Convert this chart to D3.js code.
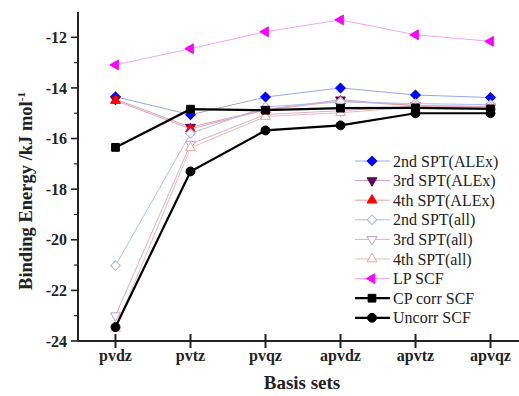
<!DOCTYPE html>
<html>
<head>
<meta charset="utf-8">
<script src="https://cdn.jsdelivr.net/npm/d3@7"></script>
<style>
  html, body { margin: 0; padding: 0; background: #fff; }
  svg { display: block; }
</style>
</head>
<body>
<svg id="chart" width="519" height="396"></svg>
<script>
const categories = ["pvdz", "pvtz", "pvqz", "apvdz", "apvtz", "apvqz"];
const yTicks = [-24, -22, -20, -18, -16, -14, -12];
const yMinorTicks = [-23, -21, -19, -17, -15, -13];

const spt2ALEx = [-14.35, -15.06, -14.36, -14.0, -14.28, -14.38];
const spt3ALEx = [-14.45, -15.55, -14.85, -14.47, -14.7, -14.75];
const spt4ALEx = [-14.5, -15.62, -14.87, -14.52, -14.7, -14.73];
const spt2All = [-21.02, -15.8, -14.75, -14.55, -14.62, -14.66];
const spt3All = [-23.0, -16.22, -15.05, -14.9, -14.72, -14.76];
const spt4All = [-23.5, -16.37, -15.13, -14.98, -14.75, -14.78];
const lpSCF = [-13.09, -12.45, -11.78, -11.31, -11.9, -12.16];
const cpCorrSCF = [-16.35, -14.84, -14.88, -14.8, -14.79, -14.83];
const uncorrSCF = [-23.45, -17.3, -15.68, -15.48, -15.0, -15.0];

const seriesNames = ["2nd SPT(ALEx)", "3rd SPT(ALEx)", "4th SPT(ALEx)", "2nd SPT(all)", "3rd SPT(all)", "4th SPT(all)", "LP SCF", "CP corr SCF", "Uncorr SCF"];
const seriesValues = [spt2ALEx, spt3ALEx, spt4ALEx, spt2All, spt3All, spt4All, lpSCF, cpCorrSCF, uncorrSCF];
const seriesStyle = [
  {line: "#9aa4ee", width: 1, shape: "diamond", fill: "#0000ff", stroke: "#0000ff"},
  {line: "#c9a3c3", width: 1, shape: "down", fill: "#5a0a5a", stroke: "#5a0a5a"},
  {line: "#eea0a0", width: 1, shape: "up", fill: "#ff0000", stroke: "#ff0000"},
  {line: "#b3bbf2", width: 1, shape: "diamond", fill: "#fff", stroke: "#aab2f0"},
  {line: "#d8b0cc", width: 1, shape: "down", fill: "#fff", stroke: "#c99ab8"},
  {line: "#f2b6b2", width: 1, shape: "up", fill: "#fff", stroke: "#e9a6a2"},
  {line: "#f0a6f0", width: 1, shape: "left", fill: "#ff00ff", stroke: "#ff00ff"},
  {line: "#000", width: 2.2, shape: "square", fill: "#000", stroke: "#000"},
  {line: "#000", width: 2.2, shape: "circle", fill: "#000", stroke: "#000"}
];

const svg = d3.select("#chart");
const mLeft = 78, mRight = 528, mTop = 12, mBottom = 341;

const x = d3.scalePoint().domain(categories).range([mLeft, mRight]).padding(0.5);
const y = d3.scaleLinear().domain([-24, -11]).range([mBottom, mTop]);

const serif = "'Liberation Serif', 'Times New Roman', serif";

// Y axis
svg.append("line").attr("x1", mLeft).attr("x2", mLeft).attr("y1", mTop).attr("y2", mBottom)
  .attr("stroke", "#222").attr("stroke-width", 2);
svg.selectAll(".ymaj").data(yTicks).enter().append("line")
  .attr("x1", mLeft - 7).attr("x2", mLeft).attr("y1", d => y(d)).attr("y2", d => y(d))
  .attr("stroke", "#222").attr("stroke-width", 1.6);
svg.selectAll(".ymin").data(yMinorTicks).enter().append("line")
  .attr("x1", mLeft - 4).attr("x2", mLeft).attr("y1", d => y(d)).attr("y2", d => y(d))
  .attr("stroke", "#222").attr("stroke-width", 1.2);
svg.selectAll(".ylab").data(yTicks).enter().append("text")
  .attr("x", mLeft - 11).attr("y", d => y(d)).attr("dy", "0.35em")
  .attr("text-anchor", "end").attr("font-family", serif).attr("font-weight", "bold")
  .attr("font-size", 16).attr("fill", "#222").text(d => d);

// X axis
svg.append("line").attr("x1", mLeft).attr("x2", mRight).attr("y1", mBottom).attr("y2", mBottom)
  .attr("stroke", "#222").attr("stroke-width", 2.2);
svg.selectAll(".xt").data(categories).enter().append("line")
  .attr("x1", d => x(d)).attr("x2", d => x(d)).attr("y1", mBottom - 7).attr("y2", mBottom + 7)
  .attr("stroke", "#222").attr("stroke-width", 2);
svg.selectAll(".xlab").data(categories).enter().append("text")
  .attr("x", d => x(d)).attr("y", 361).attr("text-anchor", "middle")
  .attr("font-family", serif).attr("font-weight", "bold").attr("font-size", 16)
  .attr("fill", "#222").text(d => d);

// Axis titles
svg.append("text").attr("x", 302).attr("y", 389).attr("text-anchor", "middle")
  .attr("font-family", serif).attr("font-weight", "bold").attr("font-size", 19)
  .attr("fill", "#222").text("Basis sets");
const yt = svg.append("text").attr("transform", "translate(32,191) rotate(-90)")
  .attr("text-anchor", "middle").attr("font-family", serif).attr("font-weight", "bold")
  .attr("font-size", 18.5).attr("fill", "#222");
yt.append("tspan").text("Binding Energy /kJ mol");
yt.append("tspan").attr("dy", -7).attr("font-size", 11).text("-1");

function symbolPath(shape) {
  if (shape === "diamond") return {d: d3.symbol(d3.symbolSquare, 46)(), rot: 45};
  if (shape === "up") return {d: d3.symbol(d3.symbolTriangle, 42)(), rot: 0};
  if (shape === "down") return {d: d3.symbol(d3.symbolTriangle, 42)(), rot: 180};
  if (shape === "left") return {d: d3.symbol(d3.symbolTriangle, 42)(), rot: -90};
  if (shape === "square") return {d: d3.symbol(d3.symbolSquare, 60)(), rot: 0};
  return {d: d3.symbol(d3.symbolCircle, 62)(), rot: 0};
}

const line = d3.line().x((d, i) => x(categories[i])).y(d => y(d));

seriesValues.forEach((vals, si) => {
  const st = seriesStyle[si];
  const g = svg.append("g");
  g.append("path").datum(vals).attr("d", line).attr("fill", "none")
    .attr("stroke", st.line).attr("stroke-width", st.width);
  const sp = symbolPath(st.shape);
  g.selectAll("path.m").data(vals).enter().append("path").attr("class", "m")
    .attr("d", sp.d)
    .attr("transform", (d, i) => `translate(${x(categories[i])},${y(d)}) rotate(${sp.rot})`)
    .attr("fill", st.fill).attr("stroke", st.stroke).attr("stroke-width", 1);
});

// Legend
const legX1 = 355, legX2 = 390, legMX = 372, legTX = 393, legY0 = 161, legDY = 19.6;
seriesNames.forEach((name, si) => {
  const st = seriesStyle[si];
  const yy = legY0 + si * legDY;
  const g = svg.append("g");
  g.append("line").attr("x1", legX1).attr("x2", legX2).attr("y1", yy).attr("y2", yy)
    .attr("stroke", st.line).attr("stroke-width", st.width);
  const sp = symbolPath(st.shape);
  g.append("path").attr("d", sp.d)
    .attr("transform", `translate(${legMX},${yy}) rotate(${sp.rot})`)
    .attr("fill", st.fill).attr("stroke", st.stroke).attr("stroke-width", 1);
  g.append("text").attr("x", legTX).attr("y", yy).attr("dy", "0.35em")
    .attr("font-family", serif).attr("font-size", 16).attr("fill", "#222").text(name);
});
</script>
</body>
</html>
